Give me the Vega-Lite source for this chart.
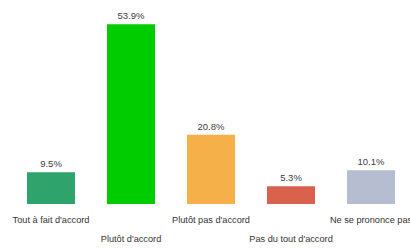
{
  "$schema": "https://vega.github.io/schema/vega-lite/v6.json",
  "width": 400,
  "height": 200,
  "autosize": "none",
  "padding": {"left": 11, "top": 4, "right": 0, "bottom": 45},
  "background": "white",
  "config": {"view": {"stroke": null}, "font": "Liberation Sans"},
  "data": {"values": [
    {"cat": "Tout à fait d'accord", "v": 0.095},
    {"cat": "Plutôt d'accord", "v": 0.539},
    {"cat": "Plutôt pas d'accord", "v": 0.208},
    {"cat": "Pas du tout d'accord", "v": 0.053},
    {"cat": "Ne se prononce pas", "v": 0.101}
  ]},
  "encoding": {
    "x": {"field": "cat", "type": "nominal", "sort": null,
      "scale": {"paddingInner": 0.4, "paddingOuter": 0.2},
      "axis": {"title": null, "domain": false, "ticks": false, "labelAngle": 0,
        "labelFontSize": 9.2, "labelColor": "#333333", "labelPadding": 11,
        "labelLineHeight": 19, "labelBaseline": "top",
        "labelExpr": "indexof([\"Plutôt d'accord\", \"Pas du tout d'accord\"], datum.value) >= 0 ? ['', datum.label] : datum.label"}},
    "y": {"field": "v", "type": "quantitative", "scale": {"domain": [0, 0.6]}, "axis": null}
  },
  "layer": [
    {"mark": {"type": "bar"},
      "encoding": {"color": {"field": "cat", "type": "nominal", "legend": null,
        "scale": {"domain": ["Tout à fait d'accord", "Plutôt d'accord", "Plutôt pas d'accord", "Pas du tout d'accord", "Ne se prononce pas"],
          "range": ["#2ea36b", "#00cc00", "#f5b04a", "#d9614e", "#b6bdd1"]}}}},
    {"mark": {"type": "text", "baseline": "bottom", "dy": -3, "fontSize": 9.5, "color": "#404040"},
      "encoding": {"text": {"field": "v", "type": "quantitative", "format": ".1%"}}}
  ]
}
